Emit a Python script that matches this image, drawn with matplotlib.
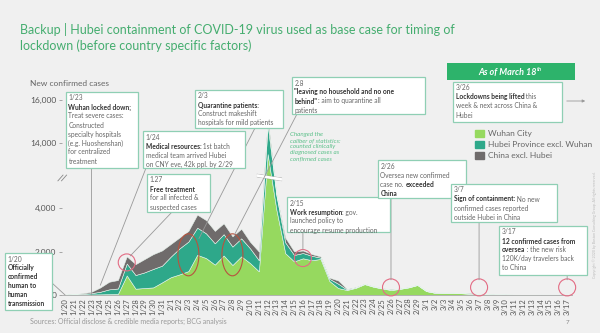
import numpy as np
import matplotlib
matplotlib.use('Agg')
import matplotlib.pyplot as plt
from matplotlib.patches import Rectangle, Ellipse, Patch
from matplotlib.transforms import ScaledTranslation

plt.rcParams['font.family'] = ['Lato', 'DejaVu Sans']

# data
dates = ['1/20', '1/21', '1/22', '1/23', '1/24', '1/25', '1/26', '1/27', '1/28', '1/29', '1/30', '1/31',
         '2/1', '2/2', '2/3', '2/4', '2/5', '2/6', '2/7', '2/8', '2/9', '2/10', '2/11', '2/12', '2/13',
         '2/14', '2/15', '2/16', '2/17', '2/18', '2/19', '2/20', '2/21', '2/22', '2/23', '2/24', '2/25',
         '2/26', '2/27', '2/28', '2/29', '3/1', '3/2', '3/3', '3/4', '3/5', '3/6', '3/7', '3/8', '3/9',
         '3/10', '3/11', '3/12', '3/13', '3/14', '3/15', '3/16', '3/17']
wuhan = [10, 15, 20, 25, 30, 40, 50,
         900, 290, 320, 350, 580,
         820, 950, 1100, 1850, 1700, 1400, 1820, 1380, 1780, 1470, 1090, 13436, 3910, 1923, 1548,
         1690, 1600, 1660, 650, 320, 230, 330, 500, 380, 300, 230, 280, 350, 460,
         180, 100, 100, 100, 80, 60, 35, 30, 15, 15, 8, 5, 4, 4, 4, 1, 1]
hubei_excl = [5, 20, 30, 60, 120, 220, 250,
              550, 630, 720, 850, 770,
              950, 1200, 1360, 1250, 1140, 980, 980, 850, 830, 680, 510, 1404, 913, 497, 295,
              243, 207, 60, 100, 200, 20, 15, 10, 10, 10, 10, 10, 8, 8,
              6, 5, 5, 5, 5, 4, 3, 3, 2, 2, 0, 0, 0, 0, 0, 0, 0]
china_excl = [0, 15, 30, 65, 200, 350, 390,
              330, 500, 610, 680, 700,
              580, 500, 490, 600, 610, 570, 500, 470, 440, 300, 400, 312, 267, 221, 166,
              115, 79, 56, 50, 150, 30, 19, 11, 9, 5, 24, 9, 4, 3,
              6, 11, 4, 5, 17, 25, 3, 4, 2, 7, 7, 3, 7, 16, 12, 20, 12]
series_names = ['Wuhan City', 'Hubei Province excl. Wuhan', 'China excl. Hubei']
yticks = [0, 2000, 4000, 14000, 16000]
ytick_labels = ['0', '2,000', '4,000', '14,000', '16,000']

# event markers
circle_dates = ['1/27', '2/16', '2/26', '3/7', '3/17']
circle_vals = [1500, 1700, 350, 350, 350]
ellipse_dates = ['2/3', '2/8']
ellipse_vals = [1850, 1850]

W, H = 600, 333
c_wuhan = '#96d95f'
c_hubei = '#2ea88a'
c_china = '#6f6b6b'
c_title = '#45ad6f'
c_box = '#8fcfb4'
bg = '#f0f0f0'


# broken y axis: squeeze 4,500 - 13,500 into a short band
def fwd(v):
    return np.interp(v, [-1e5, 0, 4500, 13500, 1e5], [-1e5, 0, 4500, 6500, 93000])


def inv(t):
    return np.interp(t, [-1e5, 0, 4500, 6500, 93000], [-1e5, 0, 4500, 13500, 1e5])


fig = plt.figure(figsize=(6, 3.33), dpi=100, facecolor=bg)
ax = fig.add_axes([62 / W, 38 / H, 510 / W, 202 / H])
ax.set_facecolor(bg)
ax.set_yscale('function', functions=(fwd, inv))

x = np.arange(len(dates))
ax.stackplot(x, wuhan, hubei_excl, china_excl, colors=[c_wuhan, c_hubei, c_china],
             edgecolor='#e6f4ec', linewidth=0.4, zorder=1)

ax.set_xlim(-0.35, len(dates) - 0.45)
ax.set_ylim(0, 16300)
ax.set_yticks(yticks, ytick_labels)
ax.set_xticks(x, dates, rotation=90)
ax.tick_params(axis='x', length=0, labelsize=5.5, labelcolor='#555', pad=2)
ax.tick_params(axis='y', length=2, width=0.6, color='#999', labelsize=6, labelcolor='#555', pad=2)
for s in ['top', 'right', 'left']:
    ax.spines[s].set_visible(False)
ax.spines['bottom'].set_color('#aaa')
ax.spines['bottom'].set_linewidth(0.6)
ax.minorticks_off()

# axis break marks
ytr = ax.get_yaxis_transform()
for dx in [0.0, 0.007]:
    ax.plot([-0.008 + dx, 0.002 + dx], [7900, 9100], transform=ytr, color='#888', lw=0.6, clip_on=False)
ip = dates.index('2/12')
xs = [ip - 1.2, ip + 1.6]
for off in [300, -300]:
    ax.plot(xs, [9000 + off, 8200 + off], color='#999', lw=0.4, zorder=2)
ax.fill([xs[0], xs[1], xs[1], xs[0]], [9280, 8480, 7920, 8720], color='white', zorder=2, lw=0)

# circles and ellipses at key dates
cx = [dates.index(d) for d in circle_dates]
ax.scatter(cx, circle_vals, s=150, facecolors='none', edgecolors='#e36c84', linewidths=0.8,
           zorder=3, clip_on=False)
for d, v in zip(ellipse_dates, ellipse_vals):
    tr = fig.dpi_scale_trans + ScaledTranslation(dates.index(d), v, ax.transData)
    ax.add_patch(Ellipse((0, 0), 0.21, 0.42, transform=tr, fill=False, ec='#b8533f', lw=0.8, zorder=3))

# title area
fig.text(20 / W, 1 - 23 / H, 'Backup | Hubei containment of COVID-19 virus used as base case for timing of\n'
         'lockdown (before country specific factors)', fontsize=9, color=c_title, va='top',
         linespacing=1.3)
ax.add_patch(Rectangle((447 / W, 1 - 80 / H), 128 / W, 17 / H, transform=fig.transFigure,
                       fc='#2db36b', ec='none', clip_on=False))
t18 = fig.text(508 / W, 1 - 72 / H, 'As of March 18', fontsize=6.5, color='white', fontweight='bold',
               style='italic', ha='center', va='center')
ax.annotate('th', xy=(1, 0.55), xycoords=t18, fontsize=4, color='white', fontweight='bold',
            style='italic', va='bottom', ha='left')
fig.text(30 / W, 1 - 84 / H, 'New confirmed cases', fontsize=6, color='#666', va='center')
fig.text(30 / W, 1 - 321 / H, 'Sources: Official disclose & credible media reports; BCG analysis',
         fontsize=5, color='#999', va='center')
fig.text(567 / W, 1 - 323 / H, '7', fontsize=4.5, color='#888', va='center', ha='center')
fig.text(595 / W, 1 - 225 / H, 'Copyright \u00a9 2020 by Boston Consulting Group. All rights reserved.',
         fontsize=2.6, color='#bbb', rotation=90, va='center', ha='center')


def note(x0, y0, x1, y1, lines, fs=4.8, lh=9.0):
    ax.add_patch(Rectangle((x0 / W, 1 - y1 / H), (x1 - x0) / W, (y1 - y0) / H, transform=fig.transFigure,
                           fc='white', ec=c_box, lw=0.9, zorder=5, clip_on=False))
    for i, line in enumerate(lines):
        prev = None
        for seg, bold in line:
            kw = dict(fontsize=fs, color='#333' if bold else '#666',
                      fontweight='bold' if bold else 'normal', zorder=6)
            if prev is None:
                prev = ax.text((x0 + 2.5) / W, 1 - (y0 + 2.5 + i * lh) / H, seg, transform=fig.transFigure,
                               va='top', ha='left', **kw)
            else:
                prev = ax.annotate(seg, xy=(1, 0), xycoords=prev, va='bottom', ha='left', **kw)


def leader(px, py, xd, yd, vertical=False):
    if vertical:
        ax.annotate('', xy=(xd, yd), xytext=(xd, H - py), textcoords=('data', 'figure pixels'),
                    arrowprops=dict(arrowstyle='-', color='#999', lw=0.6, shrinkA=0, shrinkB=0), zorder=4)
    else:
        ax.annotate('', xy=(xd, yd), xytext=(px, H - py), textcoords='figure pixels',
                    arrowprops=dict(arrowstyle='-', color='#999', lw=0.6, shrinkA=0, shrinkB=0), zorder=4)


N, B = False, True
leader(0, 168, dates.index('1/23'), 0, vertical=True)
leader(146, 168, dates.index('1/24'), 450)
leader(172, 212, dates.index('1/27') + 0.4, 1800)
leader(255, 128, dates.index('2/3') + 1.2, 2600)
leader(297, 114, dates.index('2/8') + 0.2, 2750)
leader(0, 232, dates.index('2/16'), 2100, vertical=True)
leader(0, 198, dates.index('2/26'), 700, vertical=True)
leader(0, 222, dates.index('3/7'), 700, vertical=True)
leader(0, 275, dates.index('3/17'), 700, vertical=True)
leader(52, 283, dates.index('1/20'), 0)

note(66, 92, 138, 168, [[('1/23', N)], [('Wuhan locked down;', B)], [('Treat severe cases:', N)],
                        [('Constructed', N)], [('specialty hospitals', N)], [('(e.g. Huoshenshan)', N)],
                        [('for centralized', N)], [('treatment', N)]])
note(143, 131, 245, 168, [[('1/24', N)], [('Medical resources:', B), (' 1st batch', N)],
                          [('medical team arrived Hubei', N)], [('on CNY eve, 42k ppl. by 2/29', N)]])
note(147, 174, 210, 212, [[('1.27', N)], [('Free treatment', B)], [('for all infected &', N)],
                          [('suspected cases', N)]])
note(195, 90, 283, 128, [[('2/3', N)], [('Quarantine patients:', B)], [('Construct makeshift', N)],
                         [('hospitals for mild patients', N)]])
note(292, 77, 425, 114, [[('2.8', N)], [('"leaving no household and no one', B)],
                         [('behind"', B), (': aim to quarantine all', N)], [('patients', N)]])
note(287, 197, 390, 232, [[('2/15', N)], [('Work resumption', B), (': gov.', N)],
                          [('launched policy to', N)], [('encourage resume production', N)]])
note(378, 160, 466, 198, [[('2/26', N)], [('Oversea new confirmed', N)],
                          [('case no. ', N), ('exceeded', B)], [('China', B)]])
note(451, 184, 557, 222, [[('3/7', N)], [('Sign of containment:', B), (' No new', N)],
                          [('confirmed cases reported', N)], [('outside Hubei in China', N)]])
note(499, 226, 587, 275, [[('3/17', N)], [('12 confirmed cases from', B)],
                          [('oversea', B), (' : the new risk', N)], [('120K/day travelers back', N)],
                          [('to China', N)]])
note(453, 82, 562, 122, [[('3/26', N)], [('Lockdowns being lifted', B), (' this', N)],
                         [('week & next across China &', N)], [('Hubei', N)]])
note(5, 253, 52, 310, [[('1/20', N)], [('Officially', B)], [('confirmed', B)], [('human to', B)],
                       [('human', B)], [('transmission', B)]], lh=8.9)

ax.annotate('', xy=(588, H - 101), xytext=(564, H - 101), xycoords='figure pixels',
            textcoords='figure pixels',
            arrowprops=dict(arrowstyle='-|>', color='#999', lw=0.6, mutation_scale=4))

fig.text(290 / W, 1 - 132 / H, 'Changed the\ncaliber of statistics:\ncounted clinically\n'
         'diagnosed cases as\nconfirmed cases', fontsize=4.5, color='#5cc08a', style='italic',
         va='top', linespacing=1.25)

handles = [Patch(color=c) for c in [c_wuhan, c_hubei, c_china]]
ax.legend(handles, series_names, loc='upper left', bbox_to_anchor=(475 / W, 1 - 130 / H),
          bbox_transform=fig.transFigure, frameon=False, fontsize=6, labelcolor='#666',
          handlelength=1.1, handleheight=0.9, handletextpad=0.5, labelspacing=0.45,
          borderaxespad=0, borderpad=0)

fig.savefig('out.png', dpi=100, facecolor=bg)
